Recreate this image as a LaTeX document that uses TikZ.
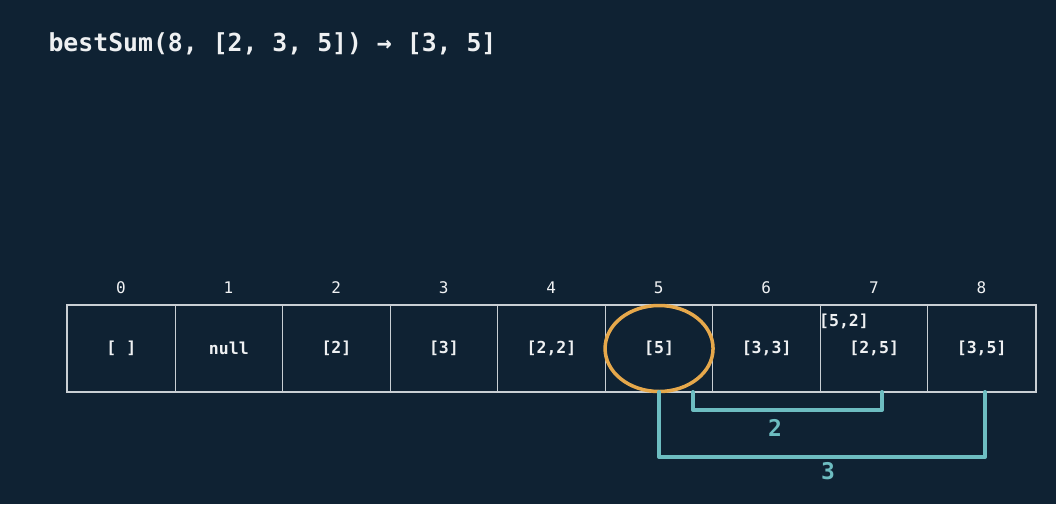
\documentclass[tikz,border=0pt]{standalone}
\usepackage{fontspec}
\setmonofont{DejaVu Sans Mono}
\definecolor{bg}{HTML}{0F2233}
\definecolor{grid}{HTML}{C9CFD4}
\definecolor{hl}{HTML}{E6A84B}
\definecolor{teal}{HTML}{6DBDC1}
\definecolor{txt}{HTML}{EEF0F2}
\begin{document}
\begin{tikzpicture}[x=1pt,y=-1pt,
  cell/.style={draw=grid,line width=1pt,minimum width=107.6pt,minimum height=86pt,inner sep=0pt,anchor=north west,font=\ttfamily\bfseries\fontsize{16.5}{18}\selectfont,text=txt},
  idx/.style={font=\ttfamily\fontsize{16}{18}\selectfont,text=txt!85},
  brk/.style={draw=teal,line width=4pt,line cap=round,line join=round},
  blab/.style={font=\ttfamily\bfseries\fontsize{23}{26}\selectfont,text=teal}]
\fill[bg] (0,0) rectangle (1056,504);
\useasboundingbox (0,0) rectangle (1056,504);
\node[anchor=west,font=\ttfamily\bfseries\fontsize{24.8}{28}\selectfont,text=txt] (title) at (45,44) {bestSum(8, [2, 3, 5]) → [3, 5]};
\foreach \i/\t in {0/{[ ]},1/null,2/{[2]},3/{[3]},4/{[2,2]},5/{[5]},6/{[3,3]},7/{[2,5]},8/{[3,5]}}{
  \node[cell] (c\i) at (67+\i*107.55,305) {\t};
  \node[idx] (i\i) at (121+\i*107.55,288) {\i};
}
\draw[grid,line width=2pt] (c0.north west) rectangle (c8.south east);
\node[font=\ttfamily\bfseries\fontsize{16.5}{18}\selectfont,text=txt] (alt) at (844,321) {[5,2]};
\draw[hl,line width=3.5pt] (c5.center) ellipse [x radius=54pt,y radius=43pt];
\coordinate (a1) at (693,392);
\coordinate (a2) at (882,392);
\draw[brk] (a1) -- (693,410) -- (882,410) -- (a2);
\node[blab] (l2) at (775,428) {2};
\coordinate (b1) at (659,392);
\coordinate (b2) at (985,392);
\draw[brk] (b1) -- (659,457) -- (985,457) -- (b2);
\node[blab] (l3) at (828,471) {3};
\end{tikzpicture}
\end{document}
